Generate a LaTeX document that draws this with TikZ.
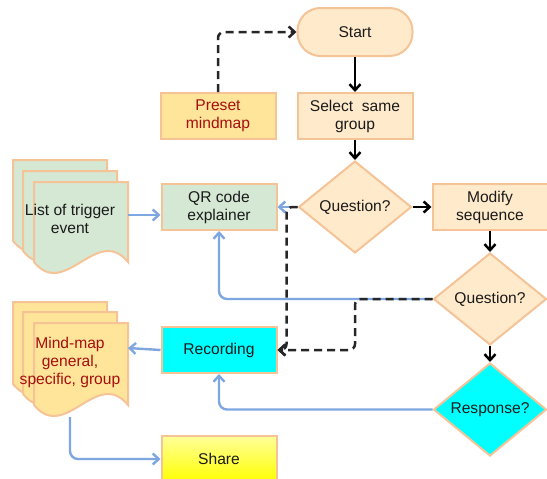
\documentclass[tikz,border=0pt]{standalone}
\usepackage{fontspec}
\setmainfont{Liberation Sans}
\usetikzlibrary{positioning,shapes.geometric,arrows.meta}

\definecolor{peach}{HTML}{F5C396}
\definecolor{cream}{HTML}{FFEBCC}
\definecolor{gold}{HTML}{FFE599}
\definecolor{sage}{HTML}{D5E8D4}
\definecolor{aqua}{HTML}{00FFFF}
\definecolor{darkred}{HTML}{A50F0F}
\definecolor{linkblue}{HTML}{7EA6E0}
\definecolor{ink}{HTML}{1A1A1A}

% one page of a stacked document: x0, top, bottom of wave, fill
\newcommand{\docpage}[4]{%
  \draw[peach,line width=2pt,fill=#4] (#1,#2) -- ({#1+94},#2) -- ({#1+94},#3)
    .. controls ({#1+63},{#3-38}) and ({#1+31},{#3+38}) .. (#1,#3) -- cycle;}

\begin{document}
\begin{tikzpicture}[x=1pt,y=-1pt,>={Straight Barb[length=6pt,width=11pt]},
  node distance=20pt,font=\fontsize{15.6}{18}\selectfont,text=ink,
  box/.style={rectangle,draw=peach,line width=2pt,fill=cream,align=center,
    minimum width=115pt,minimum height=46pt,inner sep=2pt},
  decision/.style={diamond,draw=peach,line width=2pt,fill=cream,align=center,
    minimum width=113pt,minimum height=92pt,inner sep=0pt},
  doc text/.style={align=center,inner sep=0pt},
  flow/.style={->,line width=2.5pt,black},
  dashflow/.style={->,line width=2.5pt,draw=black!85,dash pattern=on 8pt off 5pt,
    rounded corners=6pt},
  link/.style={->,line width=2.4pt,linkblue,rounded corners=8pt}]
  \useasboundingbox (0,0) rectangle (547,479);

  % flow column
  \node[box,rounded corners=23pt,minimum height=48pt] (start) at (355,32) {Start};
  \node[box] (sel) [below=35pt of start] {Select~ same\\group};
  \node[decision] (q_1) [below=20pt of sel] {Question?};
  \node[box] (mod) [right=19pt of q_1] {Modify\\sequence};
  \node[decision] (q_2) [below=21pt of mod] {Question?};
  \node[decision,fill=aqua] (resp) [below=16pt of q_2] {Response?};

  % left column
  \node[box,fill=gold,text=darkred] (preset) [left=20pt of sel] {Preset\\mindmap};
  \node[box,fill=sage] (qr) [left=20pt of q_1] {QR code\\explainer};
  \node[box,fill=aqua] (rec) [below=95pt of qr] {Recording};
  \node[box,top color=yellow!40,bottom color=yellow] (share) [below=61pt of rec] {Share};

  % stacked documents
  \docpage{13}{160}{241}{sage}
  \docpage{23}{171}{251}{sage}
  \docpage{34}{182}{262}{sage}
  \node[doc text] (trig) at (70,219) {List of trigger\\event};
  \coordinate (trig-e) at (128,215);

  \docpage{13}{302}{384}{gold}
  \docpage{23}{312}{394}{gold}
  \docpage{34}{323}{405}{gold}
  \node[doc text,text=darkred] (mmap) at (70,362) {Mind-map\\general,\\specific, group};
  \coordinate (mmap-e) at (128,348);
  \coordinate (mmap-s) at (70,417);

  % connectors
  \path[flow]
    (start) edge (sel)
    (sel) edge (q_1)
    (q_1) edge (mod)
    (mod) edge (q_2)
    (q_2) edge (resp);
  \draw[link] (q_1.west) -- (qr.east);
  \draw[link] (q_2.west) -| (qr.south);
  \draw[link] (resp.west) -| (rec.south);
  \draw[link] (rec.west) -- (mmap-e);
  \draw[link] (trig-e) -- (trig-e -| qr.west);
  \draw[link] (mmap-s) |- (share.west);
  \draw[dashflow] (preset.north) |- (start.west);
  \draw[dashflow] (q_1.west) -- ++(-11,0) |- (rec.east);
  \draw[dashflow] (q_2.west) -- (q_2.west -| q_1) |- (rec.east);
\end{tikzpicture}
\end{document}
